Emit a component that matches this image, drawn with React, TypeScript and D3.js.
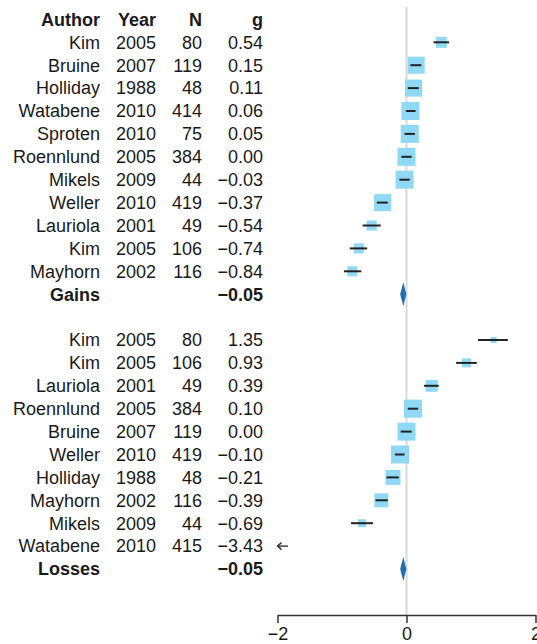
import { useEffect, useRef } from "react";
import * as d3 from "d3";

// Gains group
const gainsAuthors = ["Kim", "Bruine", "Holliday", "Watabene", "Sproten", "Roennlund", "Mikels", "Weller", "Lauriola", "Kim", "Mayhorn"];
const gainsYears = [2005, 2007, 1988, 2010, 2010, 2005, 2009, 2010, 2001, 2005, 2002];
const gainsN = [80, 119, 48, 414, 75, 384, 44, 419, 49, 106, 116];
const gainsG = [0.54, 0.15, 0.11, 0.06, 0.05, 0.0, -0.03, -0.37, -0.54, -0.74, -0.84];
const gainsLo = [0.42, 0.06, 0.02, -0.01, -0.03, -0.08, -0.11, -0.46, -0.68, -0.88, -0.97];
const gainsHi = [0.66, 0.23, 0.19, 0.14, 0.13, 0.08, 0.05, -0.29, -0.4, -0.61, -0.7];
const gainsWeight = [4.7, 11.2, 11.2, 12.5, 12.5, 12.5, 12.5, 11.2, 3.9, 3.9, 3.9];
const gainsSummary = { label: "Gains", g: -0.05, lo: -0.098, hi: -0.002 };

// Losses group
const lossesAuthors = ["Kim", "Kim", "Lauriola", "Roennlund", "Bruine", "Weller", "Holliday", "Mayhorn", "Mikels", "Watabene"];
const lossesYears = [2005, 2005, 2001, 2005, 2007, 2010, 1988, 2002, 2009, 2010];
const lossesN = [80, 106, 49, 384, 119, 419, 48, 116, 44, 415];
const lossesG = [1.35, 0.93, 0.39, 0.1, 0.0, -0.1, -0.21, -0.39, -0.69, -3.43];
const lossesLo = [1.11, 0.77, 0.27, 0.02, -0.09, -0.18, -0.31, -0.48, -0.86, -3.6];
const lossesHi = [1.57, 1.09, 0.5, 0.18, 0.08, -0.03, -0.12, -0.29, -0.52, -3.26];
const lossesWeight = [2.1, 4.7, 8.4, 18.9, 18.9, 18.9, 13.1, 11.4, 3.7, 0.5];
const lossesSummary = { label: "Losses", g: -0.05, lo: -0.098, hi: -0.002 };

const headers = ["Author", "Year", "N", "g"];
const xTicks = [-2, 0, 2];

const W = 537, H = 644;
const font = "'Liberation Sans', Arial, Helvetica, sans-serif";
const fmtG = (v: number) => d3.format(".2f")(v).replace("-", "\u2212");

interface Study { author: string; year: number; n: number; g: number; lo: number; hi: number; w: number; }

function build(a: string[], y: number[], n: number[], g: number[], lo: number[], hi: number[], w: number[]): Study[] {
  return a.map((author, i) => ({ author, year: y[i], n: n[i], g: g[i], lo: lo[i], hi: hi[i], w: w[i] }));
}

export default function App() {
  const axisRef = useRef<SVGGElement>(null);

  const x = d3.scaleLinear().domain([-2, 2]).range([277.5, 535.5]);
  const rowH = 22.9;
  const y0 = 42.3;
  const rowY = (i: number) => y0 + rowH * i;
  const axisY = 615;
  const colX = [100, 156, 202, 263];

  const gains = build(gainsAuthors, gainsYears, gainsN, gainsG, gainsLo, gainsHi, gainsWeight);
  const losses = build(lossesAuthors, lossesYears, lossesN, lossesG, lossesLo, lossesHi, lossesWeight);

  const groups = [
    { studies: gains, summary: gainsSummary, start: 0 },
    { studies: losses, summary: lossesSummary, start: gains.length + 2 },
  ];

  useEffect(() => {
    if (!axisRef.current) return;
    const g = d3.select(axisRef.current);
    g.selectAll("*").remove();
    g.call(
      d3.axisBottom(x).tickValues(xTicks).tickSize(8).tickSizeOuter(0).tickPadding(4)
        .tickFormat((d) => d3.format("d")(d as number).replace("-", "\u2212"))
    );
    g.select(".domain").attr("stroke", "#333").attr("stroke-width", 1.5);
    g.selectAll(".tick line").attr("stroke", "#333").attr("stroke-width", 1.5);
    g.selectAll(".tick text").attr("fill", "#1a1a1a").style("font-size", "18px").style("font-family", font);
  }, []);

  const textStyle = { fontFamily: font, fontSize: 18, fill: "#1a1a1a" } as const;

  return (
    <>
      <style>{`body{margin:0}`}</style>
      <svg width={W} height={H} style={{ display: "block", background: "#fff" }}>
        {/* reference line at zero */}
        <line x1={x(0)} x2={x(0)} y1={7} y2={axisY} stroke="#d9d9d9" strokeWidth={2} />

        {/* column headers */}
        {headers.map((h, i) => (
          <text key={h} x={colX[i]} y={rowY(-1)} dy="0.35em" textAnchor="end" style={{ ...textStyle, fontWeight: "bold" }}>{h}</text>
        ))}

        {groups.map((grp, gi) => {
          const size = d3.scaleSqrt().domain([0, d3.max(grp.studies, (d) => d.w)!]).range([0, 18]);
          const sy = rowY(grp.start + grp.studies.length);
          const [xmin, xmax] = x.domain();
          return (
            <g key={gi}>
              {grp.studies.map((s, i) => {
                const cy = rowY(grp.start + i);
                const off = s.g < xmin || s.g > xmax;
                const side = size(s.w);
                return (
                  <g key={i}>
                    <text x={colX[0]} y={cy} dy="0.35em" textAnchor="end" style={textStyle}>{s.author}</text>
                    <text x={colX[1]} y={cy} dy="0.35em" textAnchor="end" style={textStyle}>{s.year}</text>
                    <text x={colX[2]} y={cy} dy="0.35em" textAnchor="end" style={textStyle}>{s.n}</text>
                    <text x={colX[3]} y={cy} dy="0.35em" textAnchor="end" style={textStyle}>{fmtG(s.g)}</text>
                    {off ? (
                      <g stroke="#333" strokeWidth={1.4} fill="none">
                        <line x1={x(xmin) + 10.5} x2={x(xmin)} y1={cy} y2={cy} />
                        <path d={`M${x(xmin) + 4},${cy - 3.5} L${x(xmin)},${cy} L${x(xmin) + 4},${cy + 3.5}`} />
                      </g>
                    ) : (
                      <>
                        <rect x={x(s.g) - side / 2} y={cy - side / 2} width={side} height={side} fill="#8fd8f6" />
                        <line x1={x(s.lo)} x2={x(s.hi)} y1={cy} y2={cy} stroke="#222" strokeWidth={2} />
                      </>
                    )}
                  </g>
                );
              })}
              <text x={colX[0]} y={sy} dy="0.35em" textAnchor="end" style={{ ...textStyle, fontWeight: "bold" }}>{grp.summary.label}</text>
              <text x={colX[3]} y={sy} dy="0.35em" textAnchor="end" style={{ ...textStyle, fontWeight: "bold" }}>{fmtG(grp.summary.g)}</text>
              <path
                d={`M${x(grp.summary.lo)},${sy} L${x(grp.summary.g)},${sy - 12} L${x(grp.summary.hi)},${sy} L${x(grp.summary.g)},${sy + 12} Z`}
                fill="#1f6fb5"
              />
            </g>
          );
        })}

        <g ref={axisRef} transform={`translate(0,${axisY})`} />
      </svg>
    </>
  );
}
